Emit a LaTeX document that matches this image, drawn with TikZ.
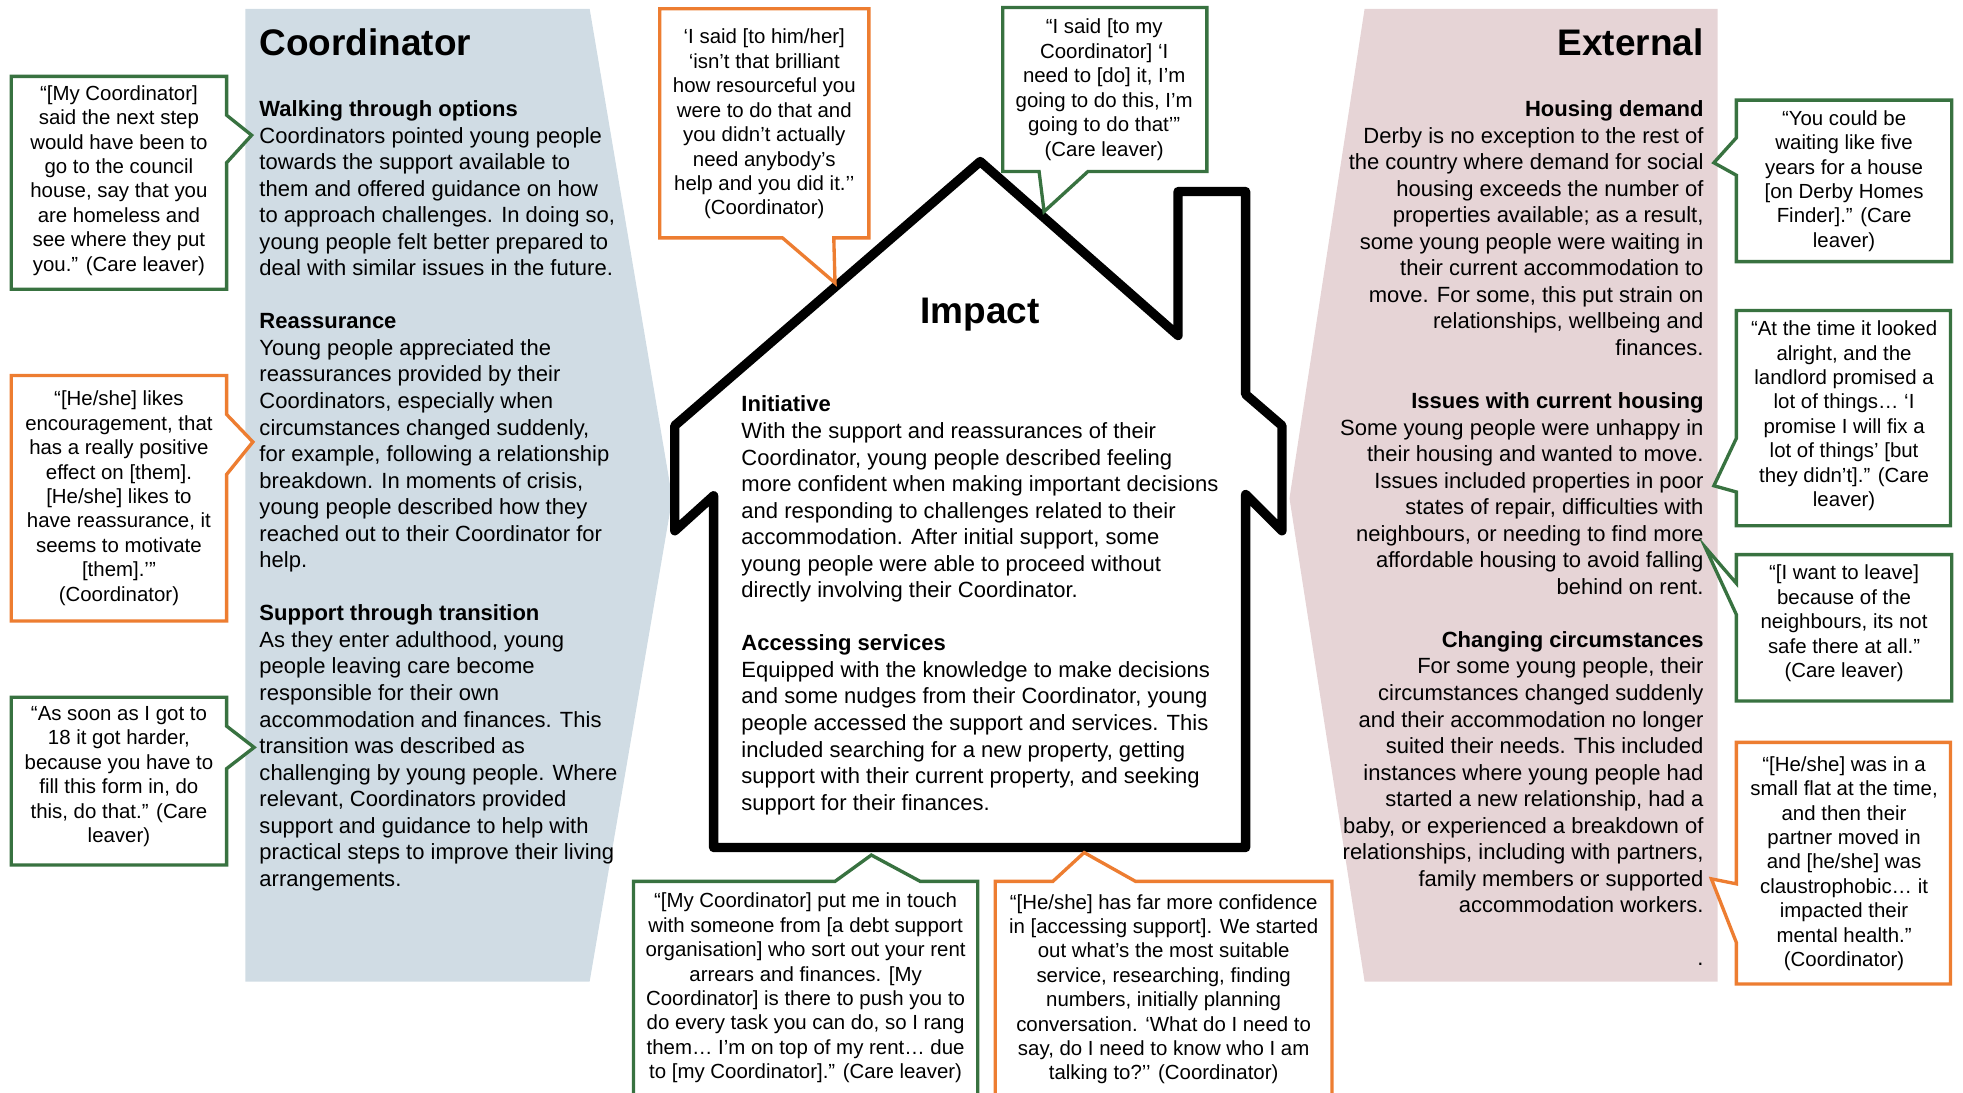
\documentclass[tikz,border=0pt]{standalone}
\usepackage{fontspec}
\setmainfont{Liberation Sans}
\usepackage{xcolor}
\usepackage{tikz}
\definecolor{coordfill}{RGB}{208,220,228}
\definecolor{extfill}{RGB}{230,212,214}
\definecolor{quotegreen}{RGB}{56,114,64}
\definecolor{quoteorange}{RGB}{237,125,49}
\tikzset{%
  panel title/.style={
    font=\fontsize{21}{25}\selectfont\bfseries,
    inner sep=0
  },
  panel text/.style={
    font=\fontsize{12.5}{15.08}\selectfont,
    inner sep=0
  },
  quote/.style={
    font=\fontsize{11.6}{13.87}\selectfont,
    align=center,
    inner sep=0,
    anchor=north
  },
  green callout/.style={
    draw=quotegreen,
    line width=1.9pt,
    fill=white
  },
  orange callout/.style={
    draw=quoteorange,
    line width=1.9pt,
    fill=white
  },
  house outline/.style={
    draw=black,
    line width=5.3pt,
    line join=round,
    fill=white
  },
}

\begin{document}
\begin{tikzpicture}[x=0.025cm, y=-0.025cm]

    \useasboundingbox (0,0) rectangle (1568,873);
    \clip (0,0) rectangle (1568,873);

    % side panels
    \fill [coordfill] (196,7) -- (471,7) -- (537,398) -- (471,784) -- (196,784) -- cycle;
    \fill [extfill] (1090,7) -- (1372,7) -- (1372,784) -- (1090,784) -- (1030,398) -- cycle;

    \node [panel title, anchor=north west] (coord-title) at (207,23) {Coordinator};
    \node [panel title, anchor=north east] (ext-title) at (1361,23) {External};

    \node [panel text, align=left, anchor=north west] (coord-text) at (207,80) {%
        \textbf{Walking through options}\\
        Coordinators pointed young people\\
        towards the support available to\\
        them and offered guidance on how\\
        to approach challenges. In doing so,\\
        young people felt better prepared to\\
        deal with similar issues in the future.\\[15.08pt]
        \textbf{Reassurance}\\
        Young people appreciated the\\
        reassurances provided by their\\
        Coordinators, especially when\\
        circumstances changed suddenly,\\
        for example, following a relationship\\
        breakdown. In moments of crisis,\\
        young people described how they\\
        reached out to their Coordinator for\\
        help.\\[15.08pt]
        \textbf{Support through transition}\\
        As they enter adulthood, young\\
        people leaving care become\\
        responsible for their own\\
        accommodation and finances. This\\
        transition was described as\\
        challenging by young people. Where\\
        relevant, Coordinators provided\\
        support and guidance to help with\\
        practical steps to improve their living\\
        arrangements.};

    \node [panel text, align=right, anchor=north east] (ext-text) at (1361,80) {%
        \textbf{Housing demand}\\
        Derby is no exception to the rest of\\
        the country where demand for social\\
        housing exceeds the number of\\
        properties available; as a result,\\
        some young people were waiting in\\
        their current accommodation to\\
        move. For some, this put strain on\\
        relationships, wellbeing and\\
        finances.\\[15.08pt]
        \textbf{Issues with current housing}\\
        Some young people were unhappy in\\
        their housing and wanted to move.\\
        Issues included properties in poor\\
        states of repair, difficulties with\\
        neighbours, or needing to find more\\
        affordable housing to avoid falling\\
        behind on rent.\\[15.08pt]
        \textbf{Changing circumstances}\\
        For some young people, their\\
        circumstances changed suddenly\\
        and their accommodation no longer\\
        suited their needs. This included\\
        instances where young people had\\
        started a new relationship, had a\\
        baby, or experienced a breakdown of\\
        relationships, including with partners,\\
        family members or supported\\
        accommodation workers.\\[15.08pt]
        .};

    % the house
    \draw [house outline] (783,129) -- (941,268) -- (941,153) -- (995,153) -- (995,315)
        -- (1024,340) -- (1024,424) -- (995,395) -- (995,677) -- (570,677)
        -- (570,396) -- (539,424) -- (539,340) -- cycle;

    \node [panel title, anchor=north] (impact-title) at (783,238) {Impact};

    \node [panel text, align=left, anchor=north west] (impact-text) at (592,316) {%
        \textbf{Initiative}\\
        With the support and reassurances of their\\
        Coordinator, young people described feeling\\
        more confident when making important decisions\\
        and responding to challenges related to their\\
        accommodation. After initial support, some\\
        young people were able to proceed without\\
        directly involving their Coordinator.\\[15.08pt]
        \textbf{Accessing services}\\
        Equipped with the knowledge to make decisions\\
        and some nudges from their Coordinator, young\\
        people accessed the support and services. This\\
        included searching for a new property, getting\\
        support with their current property, and seeking\\
        support for their finances.};

    % callouts on the left
    \draw [green callout] (9,61) -- (181,61) -- (181,92) -- (201,108) -- (181,130)
        -- (181,231) -- (9,231) -- cycle;
    \draw [orange callout] (9,300) -- (181,300) -- (181,331) -- (202,353) -- (181,379)
        -- (181,496) -- (9,496) -- cycle;
    \draw [green callout] (9,557) -- (181,557) -- (181,580) -- (203,597) -- (181,614)
        -- (181,691) -- (9,691) -- cycle;

    \node [quote] (quote-next-step) at (95,68) {“[My Coordinator]\\said the next step\\would have been to\\go to the council\\house, say that you\\are homeless and\\see where they put\\you.” (Care leaver)};
    \node [quote] (quote-encourage) at (95,312) {“[He/she] likes\\encouragement, that\\has a really positive\\effect on [them].\\{}[He/she] likes to\\have reassurance, it\\seems to motivate\\{}[them].’”\\(Coordinator)};
    \node [quote] (quote-eighteen) at (95,564) {“As soon as I got to\\18 it got harder,\\because you have to\\fill this form in, do\\this, do that.” (Care\\leaver)};

    % callouts on the roof
    \draw [orange callout] (527,7) -- (694,7) -- (694,190) -- (666,190) -- (667,226)
        -- (625,190) -- (527,190) -- cycle;
    \draw [green callout] (801,6) -- (964,6) -- (964,137) -- (869,137) -- (834,169)
        -- (830,137) -- (801,137) -- cycle;

    \node [quote] (quote-brilliant) at (610.5,23) {‘I said [to him/her]\\‘isn’t that brilliant\\how resourceful you\\were to do that and\\you didn’t actually\\need anybody's\\help and you did it.’’\\(Coordinator)};
    \node [quote] (quote-need-to) at (882,15) {“I said [to my\\Coordinator] ‘I\\need to [do] it, I’m\\going to do this, I’m\\going to do that’”\\(Care leaver)};

    % callouts under the house
    \draw [green callout] (506,704) -- (667,704) -- (696,683) -- (735,704) -- (781,704)
        -- (781,890) -- (506,890) -- cycle;
    \draw [orange callout] (795,704) -- (841,704) -- (866,681) -- (907,704) -- (1064,704)
        -- (1064,890) -- (795,890) -- cycle;

    \node [quote] (quote-debt) at (643.5,713) {“[My Coordinator] put me in touch\\with someone from [a debt support\\organisation] who sort out your rent\\arrears and finances. [My\\Coordinator] is there to push you to\\do every task you can do, so I rang\\them… I’m on top of my rent… due\\to [my Coordinator].” (Care leaver)};
    \node [quote] (quote-confidence) at (929.5,714) {“[He/she] has far more confidence\\in [accessing support]. We started\\out what’s the most suitable\\service, researching, finding\\numbers, initially planning\\conversation. ‘What do I need to\\say, do I need to know who I am\\talking to?’’ (Coordinator)};

    % callouts on the right
    \draw [green callout] (1387,80) -- (1559,80) -- (1559,209) -- (1387,209) -- (1387,140)
        -- (1369,130) -- (1387,110) -- cycle;
    \draw [green callout] (1387,248) -- (1558,248) -- (1558,420) -- (1387,420) -- (1387,393)
        -- (1369,388) -- (1387,350) -- cycle;
    \draw [green callout] (1387,443) -- (1559,443) -- (1559,560) -- (1387,560) -- (1387,491)
        -- (1362,437) -- (1387,466) -- cycle;
    \draw [orange callout] (1387,593) -- (1558,593) -- (1558,786) -- (1387,786) -- (1387,753)
        -- (1367,702) -- (1387,706) -- cycle;

    \node [quote] (quote-five-years) at (1473,88) {“You could be\\waiting like five\\years for a house\\{}[on Derby Homes\\Finder].” (Care\\leaver)};
    \node [quote] (quote-landlord) at (1473,256) {“At the time it looked\\alright, and the\\landlord promised a\\lot of things… ‘I\\promise I will fix a\\lot of things’ [but\\they didn’t].” (Care\\leaver)};
    \node [quote] (quote-neighbours) at (1473,451) {“[I want to leave]\\because of the\\neighbours, its not\\safe there at all.”\\(Care leaver)};
    \node [quote] (quote-small-flat) at (1473,604) {“[He/she] was in a\\small flat at the time,\\and then their\\partner moved in\\and [he/she] was\\claustrophobic… it\\impacted their\\mental health.”\\(Coordinator)};

\end{tikzpicture}
\end{document}
